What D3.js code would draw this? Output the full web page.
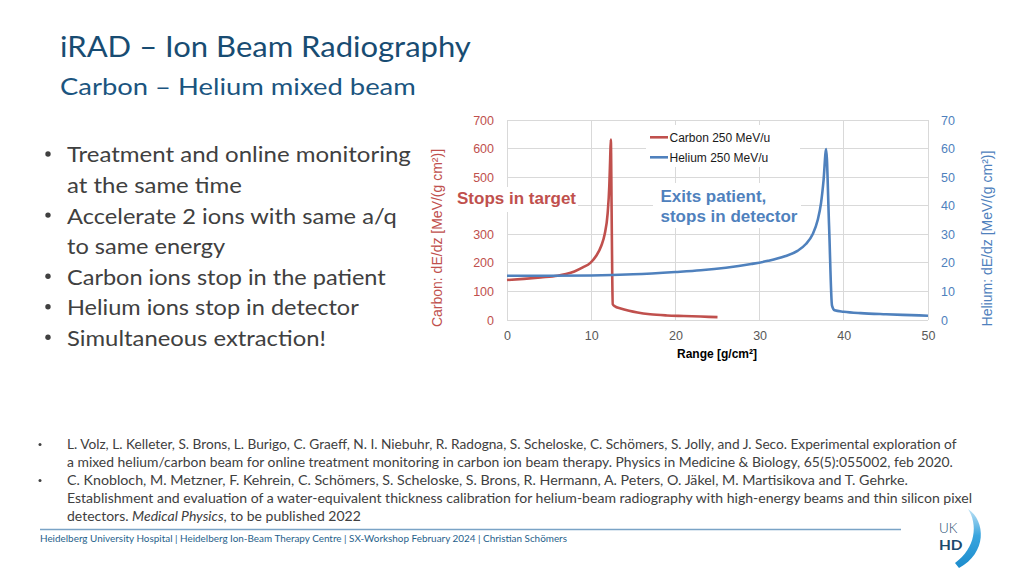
<!DOCTYPE html>
<html>
<head>
<meta charset="utf-8">
<script src="https://cdn.jsdelivr.net/npm/d3@7"></script>
<style>
  html, body { margin: 0; padding: 0; background: #fff; }
  svg { display: block; }
</style>
</head>
<body>
<svg id="chart" width="1024" height="576"></svg>
<script>
// ---------------- DATA ----------------
const titleText = "iRAD – Ion Beam Radiography";
const subtitleText = "Carbon – Helium mixed beam";
const bullets = [
  ["Treatment and online monitoring", "at the same time"],
  ["Accelerate 2 ions with same a/q", "to same energy"],
  ["Carbon ions stop in the patient"],
  ["Helium ions stop in detector"],
  ["Simultaneous extraction!"]
];
const seriesNames = ["Carbon 250 MeV/u", "Helium 250 MeV/u"];
const xTicks = [0, 10, 20, 30, 40, 50];
const carbonGrid = [0, 100, 200, 300, 400, 500, 600, 700];
const carbonTickLabels = [0, 100, 200, 300, 500, 600, 700]; // "400" is hidden behind the annotation in the reference
const heliumTicks = [0, 10, 20, 30, 40, 50, 60, 70];
const carbonRange = [0, 2, 4, 6, 7, 8, 9, 9.9, 10.6, 11.2, 11.6, 11.95, 12.15, 12.25, 12.33, 12.42, 12.5, 12.56, 12.8, 13.5, 14.5, 15.5, 17, 19, 21, 23, 25];
const carbonDedx  = [140, 144, 149, 155, 161, 170, 184, 200, 225, 260, 300, 372, 470, 560, 632, 400, 150, 55, 48, 40, 32, 26, 20, 16, 14, 12, 10];
const heliumRange = [0, 5, 10, 15, 20, 23, 26, 29, 31, 33, 34.5, 35.5, 36.3, 36.9, 37.3, 37.6, 37.9, 38.25, 38.6, 38.9, 40, 42, 45, 48, 50];
const heliumDedx  = [15.5, 15.5, 15.6, 16.0, 16.8, 17.4, 18.3, 19.6, 20.7, 22.3, 24.2, 26.6, 30, 35, 41, 49, 59.8, 33, 5, 3.4, 2.9, 2.4, 2.0, 1.7, 1.5];
const references = [
  { lines: [
    [["L. Volz, L. Kelleter, S. Brons, L. Burigo, C. Graeff, N. I. Niebuhr, R. Radogna, S. Scheloske, C. Schömers, S. Jolly, and J. Seco. Experimental exploration of", false]],
    [["a mixed helium/carbon beam for online treatment monitoring in carbon ion beam therapy. Physics in Medicine & Biology, 65(5):055002, feb 2020.", false]]
  ]},
  { lines: [
    [["C. Knobloch, M. Metzner, F. Kehrein, C. Schömers, S. Scheloske, S. Brons, R. Hermann, A. Peters, O. Jäkel, M. Martisikova and T. Gehrke.", false]],
    [["Establishment and evaluation of a water-equivalent thickness calibration for helium-beam radiography with high-energy beams and thin silicon pixel", false]],
    [["detectors. ", false], ["Medical Physics", true], [", to be published 2022", false]]
  ]}
];
const footerText = "Heidelberg University Hospital | Heidelberg Ion-Beam Therapy Centre | SX-Workshop February 2024 | Christian Schömers";
const logoLines = ["UK", "HD"];

// ---------------- STYLE ----------------
const RED = "#c0504d", BLUE = "#4f81bd", GRID = "#d9d9d9";
const TITLE_COL = "#184c72", TEXT_COL = "#404040";
const chartFont = "'Liberation Sans', Arial, sans-serif";
const slideFont = "Lato, 'Open Sans', sans-serif";

const svg = d3.select("#chart");

function fit(sel, w) {
  sel.each(function () {
    const b = this.getBBox();
    if (!b.width) return;
    const s = w / b.width, x0 = b.x;
    d3.select(this).attr("transform", `translate(${x0},0) scale(${s},1) translate(${-x0},0)`);
  });
}

// ---------------- TITLE ----------------
svg.append("text").attr("x", 60).attr("y", 57).attr("font-family", slideFont)
  .attr("font-size", 29).attr("fill", TITLE_COL).text(titleText).call(fit, 411);
svg.append("text").attr("x", 60).attr("y", 95).attr("font-family", slideFont)
  .attr("font-size", 24).attr("fill", "#1b5580").text(subtitleText).call(fit, 356);

// ---------------- BULLETS ----------------
const bulletWidths = [[344, 175], [330, 159], [319], [292], [259]];
let by = 162.5;
bullets.forEach((b, i) => {
  svg.append("circle").attr("cx", 48).attr("cy", by - 8.5).attr("r", 2.7).attr("fill", TEXT_COL);
  b.forEach((line, j) => {
    svg.append("text").attr("x", 67).attr("y", by).attr("font-family", slideFont)
      .attr("font-size", 22).attr("fill", TEXT_COL).text(line).call(fit, bulletWidths[i][j]);
    by += 30.55;
  });
});

// ---------------- CHART ----------------
const x = d3.scaleLinear().domain([0, 50]).range([507, 928]);
const yL = d3.scaleLinear().domain([0, 700]).range([320, 120]);
const yR = d3.scaleLinear().domain([0, 70]).range([320, 120]);

const grid = svg.append("g").attr("stroke", GRID).attr("stroke-width", 1).attr("shape-rendering", "crispEdges");
grid.selectAll("line.v").data(xTicks).join("line").attr("class", "v")
  .attr("x1", d => x(d)).attr("x2", d => x(d)).attr("y1", yL(700)).attr("y2", yL(0));
grid.selectAll("line.h").data(carbonGrid).join("line").attr("class", "h")
  .attr("x1", x(0)).attr("x2", x(50)).attr("y1", d => yL(d)).attr("y2", d => yL(d));

function styleAxis(g, color) {
  g.select(".domain").remove();
  g.selectAll(".tick line").remove();
  g.selectAll("text").attr("font-family", chartFont).attr("font-size", 12.5).attr("fill", color);
}
svg.append("g").attr("transform", `translate(${x(0)},0)`)
  .call(d3.axisLeft(yL).tickValues(carbonTickLabels).tickSize(0).tickPadding(13))
  .call(g => styleAxis(g, RED));
svg.append("g").attr("transform", `translate(${x(50)},0)`)
  .call(d3.axisRight(yR).tickValues(heliumTicks).tickSize(0).tickPadding(13))
  .call(g => styleAxis(g, BLUE));
svg.append("g").attr("transform", `translate(0,${yL(0)})`)
  .call(d3.axisBottom(x).tickValues(xTicks).tickSize(0).tickPadding(11))
  .call(g => styleAxis(g, "#595959"));

// axis titles
svg.append("text").attr("transform", "translate(442,238) rotate(-90)").attr("text-anchor", "middle")
  .attr("font-family", chartFont).attr("font-size", 14).attr("fill", RED).text("Carbon: dE/dz [MeV/(g cm²)]");
svg.append("text").attr("transform", "translate(992,238.5) rotate(-90)").attr("text-anchor", "middle")
  .attr("font-family", chartFont).attr("font-size", 14).attr("fill", BLUE).text("Helium: dE/dz [MeV/(g cm²)]");
svg.append("text").attr("x", 717).attr("y", 358).attr("text-anchor", "middle")
  .attr("font-family", chartFont).attr("font-size", 12).attr("font-weight", "bold").attr("fill", "#000")
  .text("Range [g/cm²]");

// white boxes behind legend / annotations
svg.append("rect").attr("x", 646).attr("y", 125).attr("width", 154).attr("height", 42).attr("fill", "#fff");
svg.append("rect").attr("x", 452).attr("y", 187).attr("width", 126).attr("height", 25).attr("fill", "#fff");
svg.append("rect").attr("x", 653).attr("y", 183).attr("width", 148).attr("height", 45).attr("fill", "#fff");

// lines
const carbonData = carbonRange.map((r, i) => [r, carbonDedx[i]]);
const heliumData = heliumRange.map((r, i) => [r, heliumDedx[i]]);
svg.append("path").datum(carbonData).attr("fill", "none").attr("stroke", RED).attr("stroke-width", 2.6)
  .attr("stroke-linejoin", "round")
  .attr("d", d3.line().x(d => x(d[0])).y(d => yL(d[1])).curve(d3.curveMonotoneX));
svg.append("path").datum(heliumData).attr("fill", "none").attr("stroke", BLUE).attr("stroke-width", 2.6)
  .attr("stroke-linejoin", "round")
  .attr("d", d3.line().x(d => x(d[0])).y(d => yR(d[1])).curve(d3.curveMonotoneX));

// legend
const leg = svg.append("g");
[RED, BLUE].forEach((c, i) => {
  const yy = 137.3 + i * 20;
  leg.append("line").attr("x1", 650).attr("x2", 668).attr("y1", yy).attr("y2", yy)
    .attr("stroke", c).attr("stroke-width", 2.6);
  leg.append("text").attr("x", 669.5).attr("y", yy + 4.3).attr("font-family", chartFont)
    .attr("font-size", 12).attr("fill", "#1a1a1a").text(seriesNames[i]);
});

// annotations
svg.append("text").attr("x", 457).attr("y", 204.3).attr("font-family", chartFont).attr("font-size", 17)
  .attr("font-weight", "bold").attr("fill", RED).text("Stops in target");
svg.append("text").attr("x", 660.5).attr("y", 202.3).attr("font-family", chartFont).attr("font-size", 17)
  .attr("font-weight", "bold").attr("fill", BLUE).text("Exits patient,");
svg.append("text").attr("x", 660.5).attr("y", 221.7).attr("font-family", chartFont).attr("font-size", 17)
  .attr("font-weight", "bold").attr("fill", BLUE).text("stops in detector");

// ---------------- REFERENCES ----------------
const refWidths = [[891, 887], [842, 906, 294]];
let ry = 449;
references.forEach((ref, i) => {
  svg.append("circle").attr("cx", 40).attr("cy", ry - 4.5).attr("r", 1.5).attr("fill", TEXT_COL);
  ref.lines.forEach((parts, j) => {
    const t = svg.append("text").attr("x", 67).attr("y", ry).attr("font-family", slideFont)
      .attr("font-size", 13).attr("fill", TEXT_COL);
    parts.forEach(p => t.append("tspan").attr("font-style", p[1] ? "italic" : "normal").text(p[0]));
    t.call(fit, refWidths[i][j]);
    ry += 18;
  });
});

// ---------------- FOOTER ----------------
svg.append("line").attr("x1", 40).attr("x2", 901).attr("y1", 529.5).attr("y2", 529.5)
  .attr("stroke", "#7aa3c6").attr("stroke-width", 1.3);
svg.append("text").attr("x", 40).attr("y", 541.7).attr("font-family", slideFont).attr("font-size", 9)
  .attr("fill", "#1f5f8b").text(footerText).call(fit, 528);

// logo
const defs = svg.append("defs");
const grad = defs.append("linearGradient").attr("id", "arcg").attr("x1", 0).attr("x2", 0).attr("y1", 0).attr("y2", 1);
grad.append("stop").attr("offset", "0%").attr("stop-color", "#bfe2f5");
grad.append("stop").attr("offset", "45%").attr("stop-color", "#3aa5de");
grad.append("stop").attr("offset", "100%").attr("stop-color", "#1c8ccd");
svg.append("path")
  .attr("d", "M968,509 C986,521 987,553 959,568 L955,563 C976,548 978,524 968,509 Z")
  .attr("fill", "url(#arcg)");
svg.append("text").attr("x", 939).attr("y", 533.5).attr("font-family", slideFont).attr("font-size", 14)
  .attr("font-weight", 300).attr("fill", "#1a4a6e").text(logoLines[0]).call(fit, 18.5);
svg.append("text").attr("x", 939).attr("y", 550.5).attr("font-family", slideFont).attr("font-size", 14)
  .attr("font-weight", "bold").attr("fill", "#1a4a6e").text(logoLines[1]).call(fit, 24);
</script>
</body>
</html>
